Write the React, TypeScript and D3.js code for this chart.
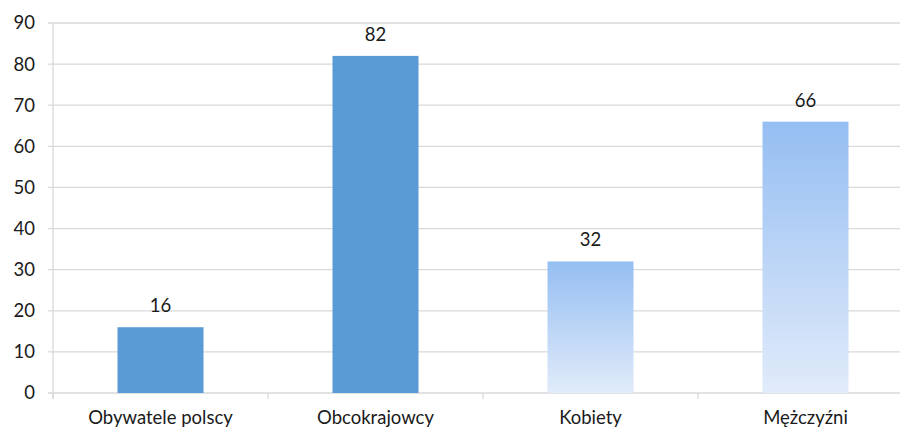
import React from "react";
import * as d3 from "d3";

const categories = ["Obywatele polscy", "Obcokrajowcy", "Kobiety", "Mężczyźni"];
const values = [16, 82, 32, 66];
const gradientBars = [false, false, true, true];
const yTicks = [0, 10, 20, 30, 40, 50, 60, 70, 80, 90];

const W = 900;
const H = 430;
const left = 53;
const right = 913;
const top = 23;
const bottom = 393;
const font = "Lato, 'Open Sans', sans-serif";
const fs = 18.5;

export default function App() {
  const x = d3.scaleBand<string>().domain(categories).range([left, right]).paddingInner(0.6).paddingOuter(0.3);
  const y = d3.scaleLinear().domain([0, 90]).range([bottom, top]);
  const step = x.step();
  const boundaries = d3.range(categories.length + 1).map((i) => left + i * step);

  return (
    <svg width={W} height={H} style={{ position: "absolute", left: 0, top: 0, background: "#fff" }}>
      <defs>
        <linearGradient id="lightGrad" x1="0" y1="0" x2="0" y2="1">
          <stop offset="0" stopColor="#95BEF2" />
          <stop offset="1" stopColor="#E1EBFA" />
        </linearGradient>
      </defs>
      {yTicks.map((t) => (
        <g key={t}>
          <line x1={left - 5} x2={W} y1={y(t)} y2={y(t)} stroke="#D9D9D9" strokeWidth={1.3} />
          <text x={35} y={y(t)} dy="0.35em" textAnchor="end" fontFamily={font} fontSize={fs} fill="#1a1a1a">
            {t}
          </text>
        </g>
      ))}
      <line x1={left} x2={left} y1={top} y2={bottom + 6} stroke="#D9D9D9" strokeWidth={1.3} />
      {boundaries.map((b, i) => (
        <line key={i} x1={b} x2={b} y1={bottom} y2={bottom + 6} stroke="#D9D9D9" strokeWidth={1.3} />
      ))}
      {categories.map((c, i) => (
        <g key={c}>
          <rect
            x={x(c)}
            y={y(values[i])}
            width={x.bandwidth()}
            height={bottom - y(values[i])}
            fill={gradientBars[i] ? "url(#lightGrad)" : "#5B9BD5"}
          />
          <text
            x={(x(c) as number) + x.bandwidth() / 2}
            y={y(values[i]) - 15}
            textAnchor="middle"
            fontFamily={font}
            fontSize={fs}
            fill="#1a1a1a"
          >
            {values[i]}
          </text>
          <text
            x={(x(c) as number) + x.bandwidth() / 2}
            y={424}
            textAnchor="middle"
            fontFamily={font}
            fontSize={fs}
            fill="#1a1a1a"
          >
            {c}
          </text>
        </g>
      ))}
    </svg>
  );
}
